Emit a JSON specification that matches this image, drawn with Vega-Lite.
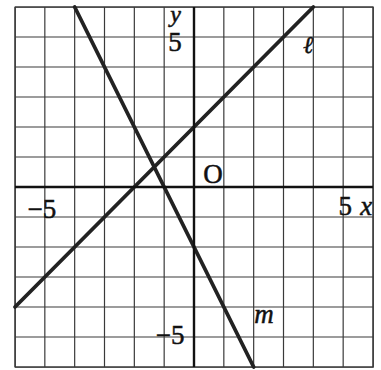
{
  "$schema": "https://vega.github.io/schema/vega-lite/v6.json",
  "width": 358,
  "height": 360,
  "autosize": {"type": "none"},
  "padding": {"left": 15, "top": 7, "right": 8, "bottom": 3},
  "background": "white",
  "config": {
    "view": {"stroke": "#333333", "strokeWidth": 1.3}
  },
  "datasets": {
    "grid": [
      {"v": -6}, {"v": -5}, {"v": -4}, {"v": -3}, {"v": -2}, {"v": -1}, {"v": 0},
      {"v": 1}, {"v": 2}, {"v": 3}, {"v": 4}, {"v": 5}, {"v": 6}
    ],
    "lines": [
      {"line": "ℓ", "x": -6, "y": -4},
      {"line": "ℓ", "x": 4, "y": 6},
      {"line": "m", "x": -4, "y": 6},
      {"line": "m", "x": 2, "y": -6}
    ],
    "axes": [
      {"x": -6, "y": 0, "x2": 6, "y2": 0},
      {"x": 0, "y": -6, "x2": 0, "y2": 6}
    ],
    "upright": [
      {"x": -0.64, "y": 4.55, "t": "5"},
      {"x": 0.64, "y": 0.13, "t": "O"},
      {"x": -5.1, "y": -1.03, "t": "−5"},
      {"x": 5.07, "y": -0.93, "t": "5"},
      {"x": -0.8, "y": -5.23, "t": "−5"}
    ],
    "italic": [
      {"x": 5.77, "y": -0.93, "t": "x"},
      {"x": 2.35, "y": -4.53, "t": "m"}
    ],
    "yl": [
      {"x": -0.62, "y": 5.5, "t": "y"}
    ],
    "ell": [
      {"x": 3.83, "y": 4.47, "t": "ℓ"}
    ]
  },
  "encoding": {
    "x": {"type": "quantitative", "scale": {"domain": [-6, 6], "nice": false, "zero": false}, "axis": null},
    "y": {"type": "quantitative", "scale": {"domain": [-6, 6], "nice": false, "zero": false}, "axis": null}
  },
  "layer": [
    {
      "data": {"name": "grid"},
      "mark": {"type": "rule", "color": "#3a3a3a", "strokeWidth": 1.2},
      "encoding": {"x": {"field": "v", "type": "quantitative"}}
    },
    {
      "data": {"name": "grid"},
      "mark": {"type": "rule", "color": "#3a3a3a", "strokeWidth": 1.2},
      "encoding": {"y": {"field": "v", "type": "quantitative"}}
    },
    {
      "data": {"name": "lines"},
      "mark": {"type": "line", "color": "#222222", "strokeWidth": 3.8, "strokeCap": "round"},
      "encoding": {
        "x": {"field": "x", "type": "quantitative"},
        "y": {"field": "y", "type": "quantitative"},
        "detail": {"field": "line"}
      }
    },
    {
      "data": {"name": "axes"},
      "mark": {"type": "rule", "color": "#111111", "strokeWidth": 2.4},
      "encoding": {
        "x": {"field": "x", "type": "quantitative"},
        "y": {"field": "y", "type": "quantitative"},
        "x2": {"field": "x2"},
        "y2": {"field": "y2"}
      }
    },
    {
      "data": {"name": "upright"},
      "mark": {"type": "text", "font": "Liberation Serif", "fontSize": 27, "color": "#111111", "stroke": "#111111", "strokeWidth": 0.5, "baseline": "alphabetic", "align": "center"},
      "encoding": {
        "x": {"field": "x", "type": "quantitative"},
        "y": {"field": "y", "type": "quantitative"},
        "text": {"field": "t"}
      }
    },
    {
      "data": {"name": "italic"},
      "mark": {"type": "text", "font": "Liberation Serif", "fontStyle": "italic", "fontSize": 27, "color": "#111111", "stroke": "#111111", "strokeWidth": 0.5, "baseline": "alphabetic", "align": "center"},
      "encoding": {
        "x": {"field": "x", "type": "quantitative"},
        "y": {"field": "y", "type": "quantitative"},
        "text": {"field": "t"}
      }
    },
    {
      "data": {"name": "yl"},
      "mark": {"type": "text", "font": "Liberation Serif", "fontStyle": "italic", "fontSize": 24, "color": "#111111", "stroke": "#111111", "strokeWidth": 0.5, "baseline": "alphabetic", "align": "center"},
      "encoding": {
        "x": {"field": "x", "type": "quantitative"},
        "y": {"field": "y", "type": "quantitative"},
        "text": {"field": "t"}
      }
    },
    {
      "data": {"name": "ell"},
      "mark": {"type": "text", "font": "DejaVu Serif", "fontStyle": "italic", "fontSize": 24, "color": "#111111", "stroke": "#111111", "strokeWidth": 0.5, "baseline": "alphabetic", "align": "center"},
      "encoding": {
        "x": {"field": "x", "type": "quantitative"},
        "y": {"field": "y", "type": "quantitative"},
        "text": {"field": "t"}
      }
    }
  ]
}
